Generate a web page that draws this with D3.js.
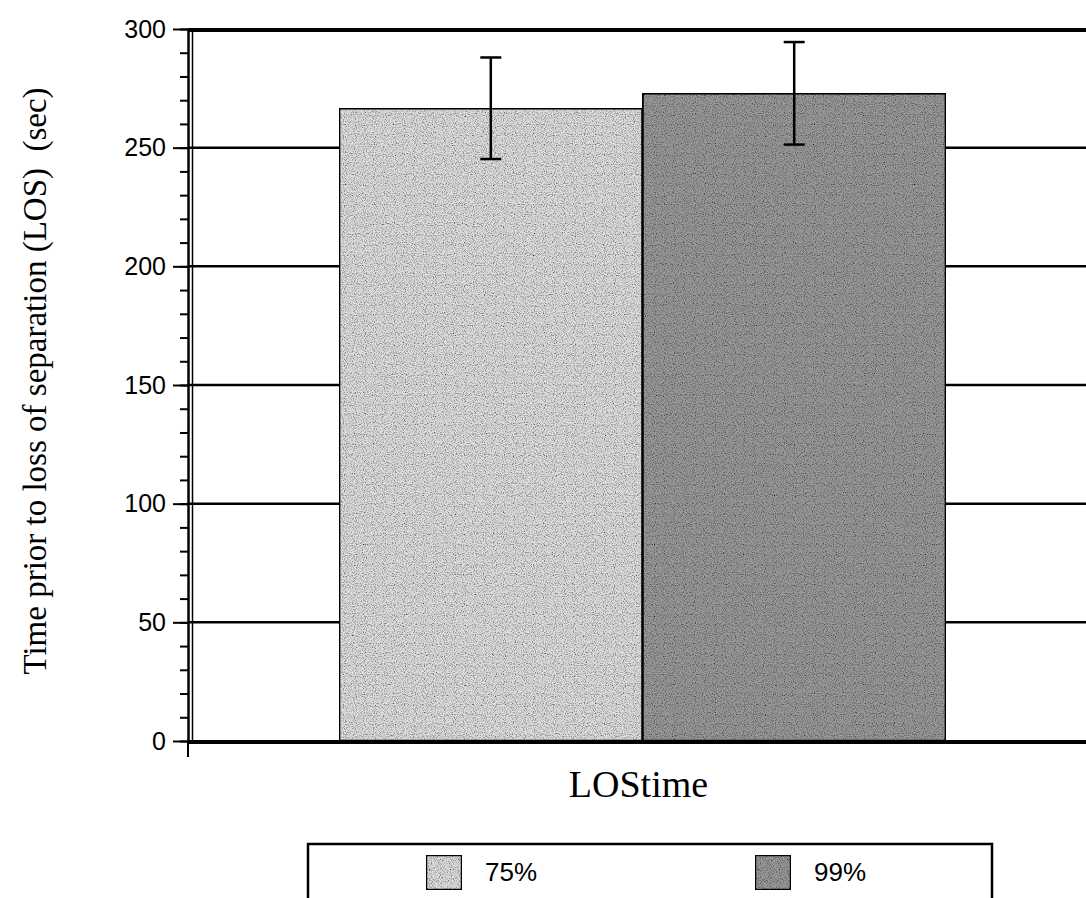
<!DOCTYPE html>
<html lang="en">
<head>
    <meta charset="UTF-8">
    <title>LOStime</title>
    <script src="https://d3js.org/d3.v7.min.js"></script>
    <style>
        body {
            margin: 0;
            background: #fff;
        }
        svg {
            display: block;
        }
        .tick text {
            font-family: "Liberation Sans", Arial, sans-serif;
            font-size: 25px;
            fill: #000;
        }
        .serif {
            font-family: "Liberation Serif", "Times New Roman", serif;
            fill: #000;
            white-space: pre;
        }
        .legend text {
            font-family: "Liberation Sans", Arial, sans-serif;
            font-size: 26px;
        }
    </style>
</head>
<body>
    <div id="chart"></div>

    <script>
        // data
        const categories = ["LOStime"];
        const seriesNames = ["75%", "99%"];
        const seriesMeans = [266.6, 272.9];
        const seriesErrors = [21.4, 21.6];
        const seriesFills = ["#dedede", "#9a9a9a"];
        const yTicks = [0, 50, 100, 150, 200, 250, 300];
        const yTitle = "Time prior to loss of separation (LOS)  (sec)";

        const width = 1086, height = 898;
        const plot = { left: 188, top: 29, right: 1097, bottom: 741 };

        const svg = d3.select("#chart").append("svg")
            .attr("width", width)
            .attr("height", height);

        // scanned-print grain for the bar fills
        const grain = svg.append("defs").append("filter")
            .attr("id", "grain")
            .attr("x", 0).attr("y", 0).attr("width", 1).attr("height", 1);
        grain.append("feTurbulence")
            .attr("type", "fractalNoise")
            .attr("baseFrequency", 0.9)
            .attr("numOctaves", 1)
            .attr("seed", 7)
            .attr("result", "noise");
        grain.append("feColorMatrix")
            .attr("in", "noise")
            .attr("type", "matrix")
            .attr("values", "0 0 0 0 0  0 0 0 0 0  0 0 0 0 0  2.4 0 0 0 -1.05")
            .attr("result", "dots");
        grain.append("feComposite")
            .attr("in", "dots")
            .attr("in2", "SourceGraphic")
            .attr("operator", "in")
            .attr("result", "specks");
        const merge = grain.append("feMerge");
        merge.append("feMergeNode").attr("in", "SourceGraphic");
        merge.append("feMergeNode").attr("in", "specks");

        const y = d3.scaleLinear()
            .domain([0, 300])
            .range([plot.bottom, plot.top]);

        const x = d3.scaleBand()
            .domain(categories)
            .range([plot.left, plot.right])
            .paddingOuter(0.249);

        const xs = d3.scaleBand()
            .domain(seriesNames)
            .range([0, x.bandwidth()]);

        const rows = seriesNames.map((name, i) => ({
            cat: categories[0], name: name, mean: seriesMeans[i], err: seriesErrors[i], fill: seriesFills[i]
        }));

        // grid lines behind the bars
        svg.append("g")
            .selectAll("line")
            .data(yTicks.filter(t => t > 0 && t < 300))
            .enter().append("line")
            .attr("x1", plot.left)
            .attr("x2", plot.right)
            .attr("y1", d => y(d))
            .attr("y2", d => y(d))
            .attr("stroke", "#000")
            .attr("stroke-width", 2.5);

        // bars
        svg.append("g")
            .selectAll("rect")
            .data(rows)
            .enter().append("rect")
            .attr("x", d => x(d.cat) + xs(d.name))
            .attr("y", d => y(d.mean))
            .attr("width", xs.bandwidth())
            .attr("height", d => y(0) - y(d.mean))
            .attr("fill", d => d.fill)
            .attr("filter", "url(#grain)")
            .attr("stroke", "#000")
            .attr("stroke-width", 2.5);

        // error bars
        const eb = svg.append("g")
            .selectAll("g")
            .data(rows)
            .enter().append("g")
            .attr("transform", d => `translate(${x(d.cat) + xs(d.name) + xs.bandwidth() / 2},0)`)
            .attr("stroke", "#000")
            .attr("stroke-width", 2.5);

        eb.append("line")
            .attr("y1", d => y(d.mean + d.err))
            .attr("y2", d => y(d.mean - d.err));
        eb.append("line")
            .attr("x1", -10.5).attr("x2", 10.5)
            .attr("y1", d => y(d.mean + d.err))
            .attr("y2", d => y(d.mean + d.err));
        eb.append("line")
            .attr("x1", -10.5).attr("x2", 10.5)
            .attr("y1", d => y(d.mean - d.err))
            .attr("y2", d => y(d.mean - d.err));

        // frame: thick top and bottom, thin inner left line
        svg.append("line")
            .attr("x1", plot.left).attr("x2", plot.right)
            .attr("y1", y(300) + 1).attr("y2", y(300) + 1)
            .attr("stroke", "#000").attr("stroke-width", 4);
        svg.append("line")
            .attr("x1", plot.left).attr("x2", plot.right)
            .attr("y1", y(0) + 1).attr("y2", y(0) + 1)
            .attr("stroke", "#000").attr("stroke-width", 4);
        svg.append("line")
            .attr("x1", plot.left + 4.5).attr("x2", plot.left + 4.5)
            .attr("y1", y(300)).attr("y2", y(0))
            .attr("stroke", "#000").attr("stroke-width", 1.5);

        // y axis, minor then major ticks
        svg.append("g")
            .attr("transform", `translate(${plot.left},0)`)
            .call(d3.axisLeft(y).ticks(30).tickSize(8).tickFormat(""))
            .call(g => g.selectAll("line").attr("stroke-width", 2))
            .call(g => g.select(".domain").remove());

        svg.append("g")
            .attr("transform", `translate(${plot.left},0)`)
            .call(d3.axisLeft(y).tickValues(yTicks).tickSize(15).tickPadding(7).tickSizeOuter(0))
            .call(g => g.selectAll("line").attr("stroke-width", 2))
            .call(g => g.select(".domain").attr("stroke-width", 2.5));

        svg.append("line")
            .attr("x1", plot.left).attr("x2", plot.left)
            .attr("y1", y(0)).attr("y2", y(0) + 16)
            .attr("stroke", "#000").attr("stroke-width", 2);

        // titles
        svg.append("text")
            .attr("class", "serif")
            .attr("transform", `translate(46,${(plot.top + plot.bottom) / 2 - 4}) rotate(-90)`)
            .attr("text-anchor", "middle")
            .style("font-size", "33px")
            .text(yTitle);

        svg.append("text")
            .attr("class", "serif")
            .attr("x", x(categories[0]) + x.bandwidth() / 2 - 4)
            .attr("y", 797)
            .attr("text-anchor", "middle")
            .style("font-size", "38px")
            .text(categories[0]);

        // legend
        const legend = svg.append("g").attr("class", "legend");
        legend.append("rect")
            .attr("x", 308).attr("y", 844)
            .attr("width", 684).attr("height", 80)
            .attr("fill", "none")
            .attr("stroke", "#000")
            .attr("stroke-width", 2.5);

        const legendX = d3.scalePoint()
            .domain(seriesNames)
            .range([426, 755]);

        const item = legend.selectAll("g.item")
            .data(rows)
            .enter().append("g")
            .attr("class", "item")
            .attr("transform", d => `translate(${legendX(d.name)},855)`);

        item.append("rect")
            .attr("width", 36).attr("height", 35)
            .attr("fill", d => d.fill)
            .attr("filter", "url(#grain)")
            .attr("stroke", "#000")
            .attr("stroke-width", 2.5);

        item.append("text")
            .attr("x", 59)
            .attr("y", 26)
            .text(d => d.name);
    </script>
</body>
</html>
